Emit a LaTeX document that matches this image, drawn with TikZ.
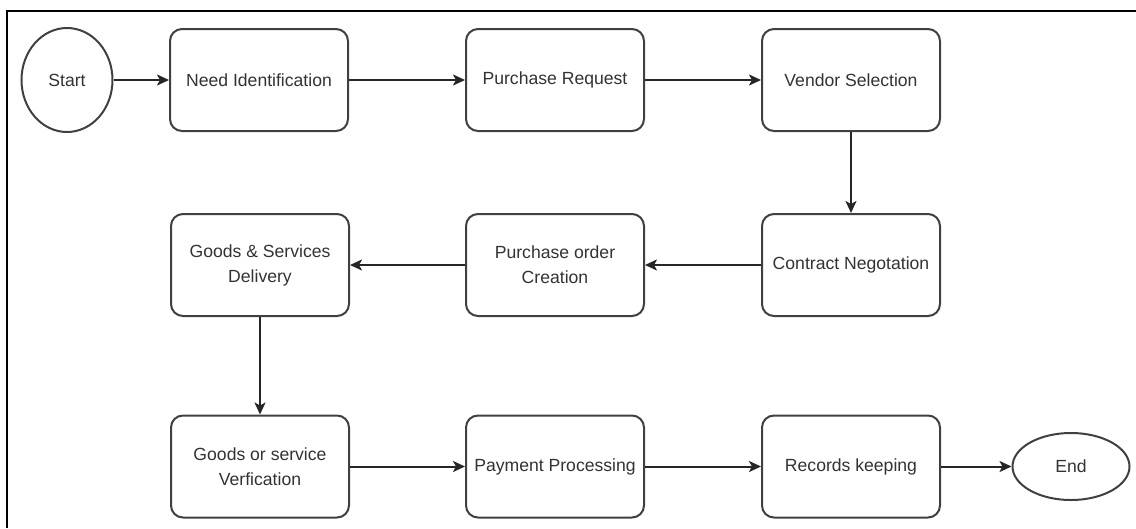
\documentclass[tikz,border=0pt]{standalone}
\usepackage{fontspec}
\setmainfont{Liberation Sans}
\usetikzlibrary{arrows.meta,shapes.geometric}
\begin{document}
\begin{tikzpicture}[x=1pt,y=-1pt,
  box/.style={draw=black!75, line width=2pt, rounded corners=12pt, fill=white,
    minimum width=178pt, minimum height=102pt, align=center, text=black!80,
    font=\fontsize{17.6}{25}\selectfont, inner sep=0pt},
  oval/.style={ellipse, draw=black!75, line width=2pt, fill=white, text=black!80,
    font=\fontsize{17.6}{25}\selectfont, inner sep=0pt},
  conn/.style={draw=black!85, line width=2pt, -{Stealth[length=12pt,width=11pt,inset=3pt]}},
  frame/.style={draw=black, line width=2.2pt}]
\useasboundingbox (0,0) rectangle (1136,528);
\draw[frame] (7,528) -- (7,11) -- (1136,11);

\node[oval, minimum width=91pt, minimum height=104pt] (start) at (67,80) {Start};
\node[box] (need) at (259,80) {Need Identification};
\node[box] (preq) at (555,80) {Purchase Request};
\node[box] (vend) at (851,80) {Vendor Selection};
\node[box] (cont) at (851,265) {Contract Negotation};
\node[box] (po) at (555,265) {Purchase order\\Creation};
\node[box] (deliv) at (260,265) {Goods \& Services\\Delivery};
\node[box] (verif) at (260,466.5) {Goods or service\\Verfication};
\node[box] (pay) at (555,466.5) {Payment Processing};
\node[box] (rec) at (851,466.5) {Records keeping};
\node[oval, minimum width=117pt, minimum height=67pt] (end) at (1071,466.5) {End};

\draw[conn] (start) -- (need);
\draw[conn] (need) -- (preq);
\draw[conn] (preq) -- (vend);
\draw[conn] (vend) -- (cont);
\draw[conn] (cont) -- (po);
\draw[conn] (po) -- (deliv);
\draw[conn] (deliv) -- (verif);
\draw[conn] (verif) -- (pay);
\draw[conn] (pay) -- (rec);
\draw[conn] (rec) -- (end);
\end{tikzpicture}
\end{document}
